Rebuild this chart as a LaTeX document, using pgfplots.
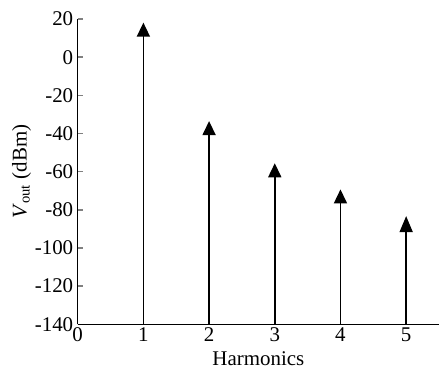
\documentclass[border=0pt]{standalone}
\usepackage{fontspec}
\setmainfont{Liberation Serif}
\usepackage{pgfplots}
\pgfplotsset{compat=1.18}
\usetikzlibrary{arrows.meta}
\begin{document}
\begin{tikzpicture}
\begin{axis}[
  scale only axis, width=361.3bp, height=305.3bp,
  xmin=0, xmax=5.5, ymin=-140, ymax=20,
  axis lines*=left,
  axis line style={line width=1.5bp},
  xtick={0,1,2,3,4,5},
  ytick={-140,-120,-100,-80,-60,-40,-20,0,20},
  x tick style={draw=none},
  y tick style={line width=1.5bp},
  tick align=inside,
  major tick length=5bp,
  /pgf/number format/assume math mode=true,
  tick label style={font=\fontsize{21}{24}\selectfont},
  yticklabel style={xshift=-1bp},
  xticklabel style={yshift=0bp},
  xlabel={Harmonics},
  ylabel={\textit{V}\textsubscript{out} (dBm)},
  label style={font=\fontsize{21}{24}\selectfont},
  xlabel style={yshift=-5bp, inner sep=1bp},
  ylabel style={yshift=-3bp},
  clip=false,
]
\addplot[line width=1.6bp, -{Triangle[width=13bp,length=14bp]}] coordinates {(1,-140) (1,18.1)};
\addplot[line width=1.6bp, -{Triangle[width=13bp,length=14bp]}] coordinates {(2,-140) (2,-33.5)};
\addplot[line width=1.6bp, -{Triangle[width=13bp,length=14bp]}] coordinates {(3,-140) (3,-55.6)};
\addplot[line width=1.6bp, -{Triangle[width=13bp,length=14bp]}] coordinates {(4,-140) (4,-69.3)};
\addplot[line width=1.6bp, -{Triangle[width=13bp,length=16bp]}] coordinates {(5,-140) (5,-83.3)};
\coordinate (sw) at (rel axis cs:0,0);
\end{axis}
\pgfresetboundingbox
\path (sw) ++(-77.7bp,-46.7bp) rectangle ++(439bp,371bp);
\end{tikzpicture}
\end{document}
